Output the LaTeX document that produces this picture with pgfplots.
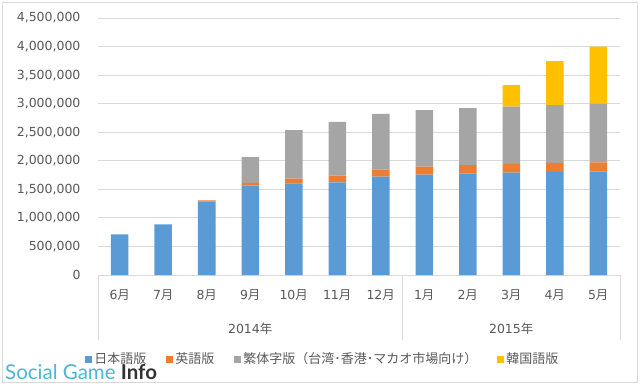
\documentclass[border=0pt]{standalone}
\usepackage{pgfplots}
\pgfplotsset{compat=1.18}
\usepackage{fontspec}
\setmainfont{DejaVu Sans}
\newfontfamily\jp{Noto Sans CJK JP}
\newfontfamily\lato{Lato}
\definecolor{cblue}{HTML}{5B9BD5}
\definecolor{corange}{HTML}{ED7D31}
\definecolor{cgray}{HTML}{A5A5A5}
\definecolor{cyellow}{HTML}{FFC000}
\definecolor{txt}{HTML}{595959}
\definecolor{gridc}{HTML}{D9D9D9}
\definecolor{wmblue}{HTML}{4DB6D3}
\newcommand\tsuki{{\jp 月}}
\newcommand\fs{\fontsize{12.5}{14}\selectfont}
\pgfplotsset{sq/.style={legend image code/.code={\fill[##1] (0pt,-3.5pt) rectangle (7pt,3.5pt);}}}
\begin{document}
\begin{tikzpicture}
\path[use as bounding box] (-98pt,-109pt) rectangle (542pt,275pt);
\draw[gridc, line width=0.8pt] (-96pt,-107pt) rectangle (539pt,273pt);
\begin{axis}[
  scale only axis, width=522pt, height=257pt,
  ybar stacked, bar width=17.5pt,
  xmin=-0.5, xmax=11.5, ymin=0, ymax=4500000,
  ytick={0,500000,...,4500000},
  xtick={0,...,11},
  xticklabels={6\tsuki,7\tsuki,8\tsuki,9\tsuki,10\tsuki,11\tsuki,12\tsuki,1\tsuki,2\tsuki,3\tsuki,4\tsuki,5\tsuki},
  scaled y ticks=false,
  /pgf/number format/fixed,
  /pgf/number format/1000 sep={,},
  /pgf/number format/assume math mode=true,
  tick label style={font=\fs, text=txt},
  yticklabel style={xshift=-14pt},
  xticklabel style={yshift=-11pt},
  major tick length=0pt,
  axis x line*=bottom, axis y line*=left,
  separate axis lines,
  x axis line style={draw=gridc, line width=0.8pt, -},
  y axis line style={draw=none},
  ymajorgrids, major grid style={draw=gridc, line width=0.8pt},
  clip=false,
  legend columns=4,
  legend style={draw=none, fill=none, at={(0.431,-0.327)}, anchor=center,
    font=\fontsize{13}{15}\selectfont\jp, text=txt, /tikz/every even column/.append style={column sep=18pt},
    inner sep=0pt},
  legend cell align=left,
]
\addplot[fill=cblue, draw=none, sq] coordinates {(0,712000) (1,888000) (2,1285000) (3,1565000) (4,1606000) (5,1624000) (6,1723000) (7,1758000) (8,1776000) (9,1793000) (10,1805000) (11,1811000)};
\addplot[fill=corange, draw=none, sq] coordinates {(0,0) (1,0) (2,20000) (3,47000) (4,82000) (5,117000) (6,123000) (7,140000) (8,146000) (9,152000) (10,158000) (11,163000)};
\addplot[fill=cgray, draw=none, sq] coordinates {(0,0) (1,0) (2,0) (3,450000) (4,847000) (5,940000) (6,975000) (7,988000) (8,999000) (9,1005000) (10,1010000) (11,1023000)};
\addplot[fill=cyellow, draw=none, sq] coordinates {(0,0) (1,0) (2,0) (3,0) (4,0) (5,0) (6,0) (7,0) (8,0) (9,374000) (10,771000) (11,1004000)};
\legend{日本語版,英語版,繁体字版（台湾･香港･マカオ市場向け）,韓国語版}
\draw[gridc, line width=0.8pt] (axis cs:-0.5,0) -- ([yshift=-65pt]axis cs:-0.5,0);
\draw[gridc, line width=0.8pt] (axis cs:6.5,0) -- ([yshift=-65pt]axis cs:6.5,0);
\draw[gridc, line width=0.8pt] (axis cs:11.5,0) -- ([yshift=-65pt]axis cs:11.5,0);
\node[font=\fs, text=txt] at ([yshift=-54pt]axis cs:3,0) {2014{\jp 年}};
\node[font=\fs, text=txt] at ([yshift=-54pt]axis cs:9,0) {2015{\jp 年}};
\end{axis}
\node[anchor=base west, inner sep=0pt, font=\lato\fontsize{20.5}{22}\selectfont] at (-93pt,-104pt) {\textcolor{wmblue}{Social Game} \textcolor{black!80}{\bfseries Info}};
\end{tikzpicture}
\end{document}
